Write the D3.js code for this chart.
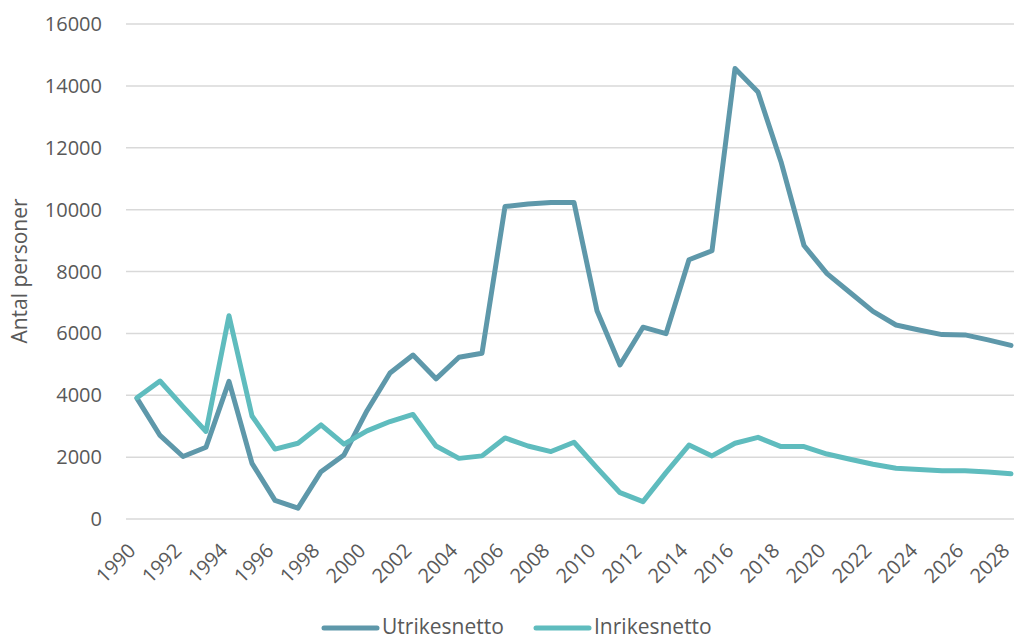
<!DOCTYPE html>
<html>
<head>
<meta charset="utf-8">
<script src="https://cdn.jsdelivr.net/npm/d3@7"></script>
<style>
  body { margin: 0; background: #fff; }
  svg { display: block; }
  text { font-family: "Open Sans", "Liberation Sans", sans-serif; fill: #595959; }
</style>
</head>
<body>
<svg id="chart" width="1014" height="639"></svg>
<script>
const years = d3.range(1990, 2029);
const utrikesnetto = [3900, 2700, 2020, 2320, 4450, 1800, 600, 350, 1530, 2070,
  3500, 4720, 5300, 4530, 5230, 5360, 10100, 10180, 10230, 10230,
  6730, 4980, 6200, 5990, 8380, 8670, 14560, 13800, 11550, 8840,
  7930, 7320, 6710, 6270, 6110, 5960, 5950, 5790, 5610];
const inrikesnetto = [3920, 4460, 3630, 2830, 6570, 3330, 2260, 2450, 3040, 2420,
  2850, 3150, 3380, 2360, 1960, 2040, 2620, 2360, 2180, 2480,
  1650, 850, 560, 1500, 2390, 2040, 2450, 2640, 2340, 2340,
  2100, 1930, 1770, 1640, 1600, 1560, 1560, 1520, 1460];
const yTicks = [0, 2000, 4000, 6000, 8000, 10000, 12000, 14000, 16000];
const xTickYears = years.filter(y => y % 2 === 0);
const seriesNames = ["Utrikesnetto", "Inrikesnetto"];
const seriesColors = ["#5e98aa", "#5fbcbe"];

const svg = d3.select("#chart");
const x = d3.scalePoint().domain(years).range([137, 1011]);
const y = d3.scaleLinear().domain([0, 16000]).range([519, 24]);

// gridlines
svg.append("g").selectAll("line").data(yTicks).join("line")
  .attr("x1", 126).attr("x2", 1014)
  .attr("y1", d => y(d)).attr("y2", d => y(d))
  .attr("stroke", "#d9d9d9").attr("stroke-width", 1.5);

// y labels
svg.append("g").selectAll("text").data(yTicks).join("text")
  .attr("x", 102).attr("y", d => y(d)).attr("dy", "0.35em")
  .attr("text-anchor", "end").attr("font-size", 20)
  .text(d => d);

// x labels
svg.append("g").selectAll("text").data(xTickYears).join("text")
  .attr("transform", d => `translate(${x(d) - 5},${547}) rotate(-45)`)
  .attr("text-anchor", "end").attr("dy", "0.35em").attr("font-size", 20)
  .text(d => d);

// y axis title
svg.append("text")
  .attr("transform", "translate(27,271) rotate(-90)")
  .attr("text-anchor", "middle").attr("font-size", 21)
  .text("Antal personer");

const line = d3.line().x((d, i) => x(years[i])).y(d => y(d));
[utrikesnetto, inrikesnetto].forEach((s, k) => {
  svg.append("path").datum(s)
    .attr("d", line)
    .attr("fill", "none")
    .attr("stroke", seriesColors[k])
    .attr("stroke-width", 5)
    .attr("stroke-linejoin", "round")
    .attr("stroke-linecap", "round");
});

// legend
const legendX = [324, 536];
seriesNames.forEach((n, k) => {
  svg.append("line")
    .attr("x1", legendX[k]).attr("x2", legendX[k] + 53)
    .attr("y1", 628).attr("y2", 628)
    .attr("stroke", seriesColors[k]).attr("stroke-width", 5)
    .attr("stroke-linecap", "round");
  svg.append("text")
    .attr("x", legendX[k] + 58).attr("y", 627).attr("dy", "0.35em")
    .attr("font-size", 21).text(n);
});
</script>
</body>
</html>
